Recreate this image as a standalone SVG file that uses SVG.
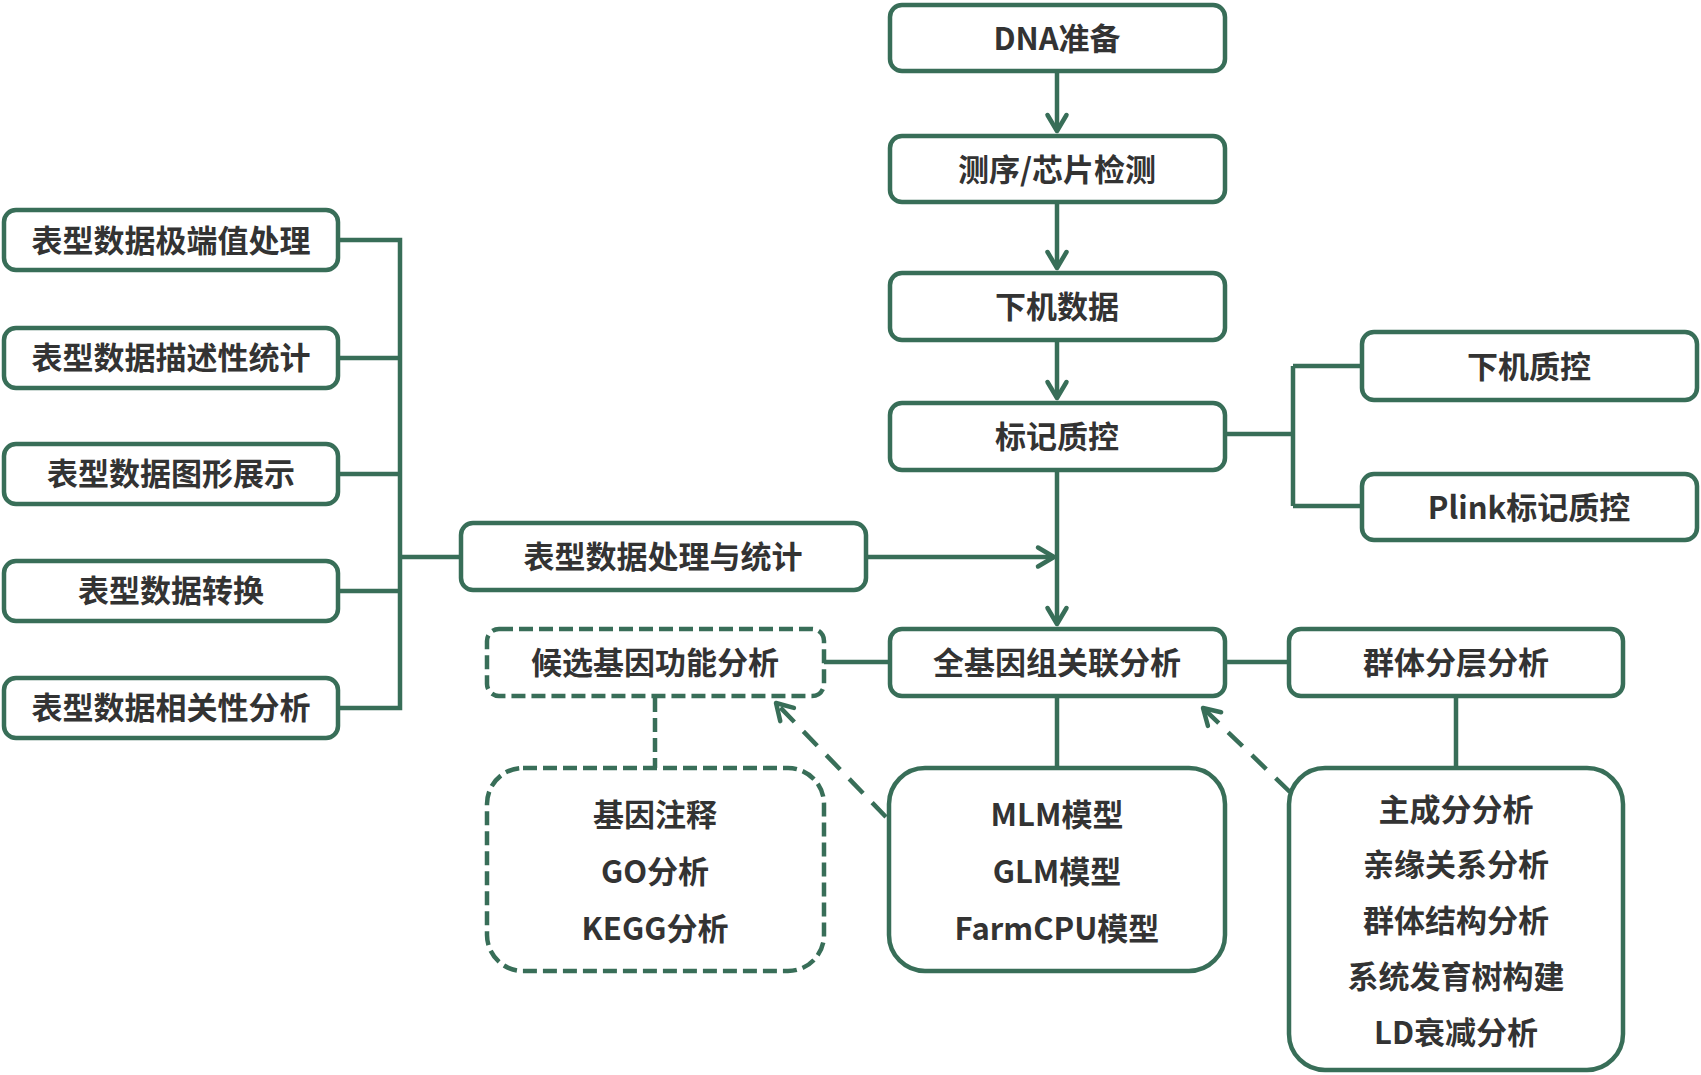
<svg xmlns="http://www.w3.org/2000/svg" width="1701" height="1075" viewBox="0 0 1701 1075">
<style>
.box{fill:#fff;stroke:#386E58;stroke-width:4.5}
.dbox{fill:#fff;stroke:#386E58;stroke-width:4.5;stroke-dasharray:14 6}
.ln{fill:none;stroke:#386E58;stroke-width:4.5}
.dln{fill:none;stroke:#386E58;stroke-width:4.5;stroke-dasharray:20 13}
.dln2{fill:none;stroke:#386E58;stroke-width:4.5;stroke-dasharray:14 6}
text{font-family:"Noto Sans CJK SC","Liberation Sans",sans-serif;font-weight:bold;font-size:31px;fill:#333;text-anchor:middle;dominant-baseline:central}
</style>
<defs>
<marker id="arr" markerUnits="userSpaceOnUse" markerWidth="40" markerHeight="40" viewBox="-20 -20 40 40" refX="0" refY="0" orient="auto" overflow="visible">
<path d="M-16,-9.5 L0,0 L-16,9.5" fill="none" stroke="#386E58" stroke-width="4.5" stroke-linecap="round" stroke-linejoin="round"/>
</marker>
</defs>
<rect width="1701" height="1075" fill="#fff"/>
<g id="connectors">
<path class="ln" d="M1057,71 V131" marker-end="url(#arr)"/>
<path class="ln" d="M1057,202 V268" marker-end="url(#arr)"/>
<path class="ln" d="M1057,340 V398" marker-end="url(#arr)"/>
<path class="ln" d="M1057,470 V624" marker-end="url(#arr)"/>
<path class="ln" d="M866,557 H1054" marker-end="url(#arr)"/>
<path class="ln" d="M338,240 H400 V708 H338 M338,358 H400 M338,474 H400 M338,591 H400 M400,557 H461"/>
<path class="ln" d="M1225,434 H1293 M1293,366 V506 M1293,366 H1362 M1293,506 H1362"/>
<path class="ln" d="M824,662 H889 M1225,662 H1289"/>
<path class="ln" d="M1057,696 V768 M1456,696 V768"/>
<path class="dln2" d="M655,698 V768"/>
<path class="dln" d="M886,817 L776,703" marker-end="url(#arr)"/>
<path class="dln" d="M1290,792 L1203,708" marker-end="url(#arr)"/>
</g>
<g id="n-dna"><rect class="box" x="890" y="5" width="335" height="66" rx="12"/><text x="1057" y="36">DNA准备</text></g>
<g id="n-seq"><rect class="box" x="890" y="136" width="335" height="66" rx="12"/><text x="1057" y="167">测序/芯片检测</text></g>
<g id="n-raw"><rect class="box" x="890" y="273" width="335" height="67" rx="12"/><text x="1057" y="304">下机数据</text></g>
<g id="n-markerqc"><rect class="box" x="890" y="403" width="335" height="67" rx="12"/><text x="1057" y="434">标记质控</text></g>
<g id="n-rawqc"><rect class="box" x="1362" y="332" width="335" height="68" rx="12"/><text x="1529" y="364">下机质控</text></g>
<g id="n-plink"><rect class="box" x="1362" y="474" width="335" height="66" rx="12"/><text x="1529" y="505">Plink标记质控</text></g>
<g id="n-pheno"><rect class="box" x="461" y="523" width="405" height="67" rx="12"/><text x="663" y="554">表型数据处理与统计</text></g>
<g id="n-gwas"><rect class="box" x="890" y="629" width="335" height="67" rx="12"/><text x="1057" y="660">全基因组关联分析</text></g>
<g id="n-strat"><rect class="box" x="1289" y="629" width="334" height="67" rx="12"/><text x="1456" y="660">群体分层分析</text></g>
<g id="n-cand"><rect class="dbox" x="487" y="629" width="337" height="67" rx="12"/><text x="655" y="660">候选基因功能分析</text></g>
<g id="n-l1"><rect class="box" x="4" y="210" width="334" height="60" rx="12"/><text x="171" y="238">表型数据极端值处理</text></g>
<g id="n-l2"><rect class="box" x="4" y="328" width="334" height="60" rx="12"/><text x="171" y="355">表型数据描述性统计</text></g>
<g id="n-l3"><rect class="box" x="4" y="444" width="334" height="60" rx="12"/><text x="171" y="471">表型数据图形展示</text></g>
<g id="n-l4"><rect class="box" x="4" y="561" width="334" height="60" rx="12"/><text x="171" y="588">表型数据转换</text></g>
<g id="n-l5"><rect class="box" x="4" y="678" width="334" height="60" rx="12"/><text x="171" y="705">表型数据相关性分析</text></g>
<g id="n-func"><rect class="dbox" x="487" y="768" width="337" height="203" rx="36"/><text x="655" y="812">基因注释</text><text x="655" y="869">GO分析</text><text x="655" y="926">KEGG分析</text></g>
<g id="n-models"><rect class="box" x="889" y="768" width="336" height="203" rx="36"/><text x="1057" y="812">MLM模型</text><text x="1057" y="869">GLM模型</text><text x="1057" y="926">FarmCPU模型</text></g>
<g id="n-pop"><rect class="box" x="1289" y="768" width="334" height="302" rx="36"/><text x="1456" y="807">主成分分析</text><text x="1456" y="862">亲缘关系分析</text><text x="1456" y="918">群体结构分析</text><text x="1456" y="974">系统发育树构建</text><text x="1456" y="1030">LD衰减分析</text></g>
</svg>
